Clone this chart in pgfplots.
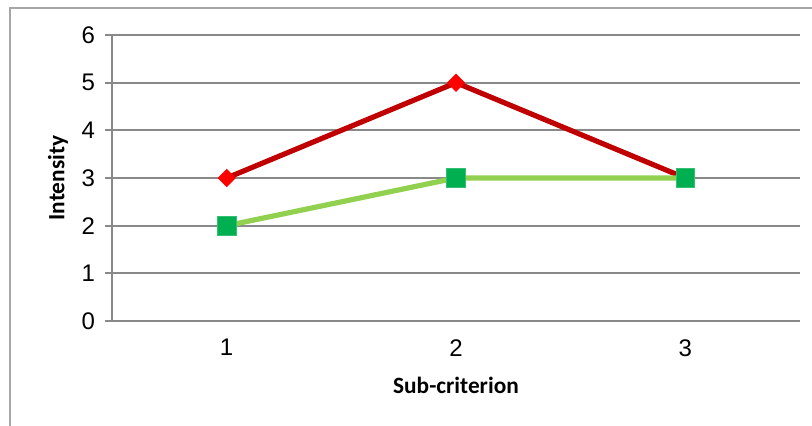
\documentclass[border=0pt]{standalone}
\usepackage{pgfplots}
\pgfplotsset{compat=1.18}
\usepackage{fontspec}
\setmainfont{Liberation Sans}
\newfontfamily\carlito{Carlito}
\definecolor{gridgray}{HTML}{898989}
\definecolor{framegray}{HTML}{A6A6A6}
\definecolor{darkred}{HTML}{C00000}
\definecolor{brightred}{HTML}{FF0000}
\definecolor{lightgreen}{HTML}{92D050}
\definecolor{markgreen}{HTML}{00B050}
\begin{document}
\begin{tikzpicture}
\useasboundingbox (0pt,0pt) rectangle (609pt,-318.75pt);
\draw[framegray, line width=1.5pt] (7.5pt,-320pt) -- (7.5pt,-6pt) -- (610pt,-6pt);
\begin{axis}[
  at={(84pt,-240.75pt)}, anchor=south west,
  scale only axis, width=516pt, height=214.5pt,
  xmin=0.5, xmax=3.5, ymin=0, ymax=6,
  xtick={1,2,3}, ytick={0,1,2,3,4,5,6},
  axis x line*=bottom, axis y line*=left,
  axis line style={gridgray, line width=2pt, -},
  ymajorgrids, grid style={gridgray, line width=1.6pt},
  x tick style={draw=none},
  y tick style={gridgray, line width=1.6pt},
  tick align=outside, major tick length=5.25pt,
  ticklabel style={font=\fontsize{18}{20}\selectfont},
  /pgf/number format/assume math mode=true,
  xticklabel style={yshift=-5pt},
  yticklabel style={xshift=-4pt},
  xlabel={Sub-criterion}, ylabel={Intensity},
  label style={font=\carlito\bfseries\fontsize{17.5}{20}\selectfont},
  xlabel style={at={(axis description cs:0.5,-0.2238)}, anchor=center},
  ylabel style={at={(axis description cs:-0.0785,0.5)}, anchor=center},
  clip=false,
]
\addplot[darkred, line width=3.9pt, mark=square*, mark size=4.6pt,
  mark options={rotate=45, fill=brightred, draw=brightred, line width=0.5pt}]
  coordinates {(1,3) (2,5) (3,3)};
\addplot[lightgreen, line width=3.9pt, mark=square*, mark size=7pt,
  mark options={fill=markgreen, draw=markgreen!80!white, line width=0.6pt, rounded corners=0.8pt}]
  coordinates {(1,2) (2,3) (3,3)};
\end{axis}
\end{tikzpicture}
\end{document}
